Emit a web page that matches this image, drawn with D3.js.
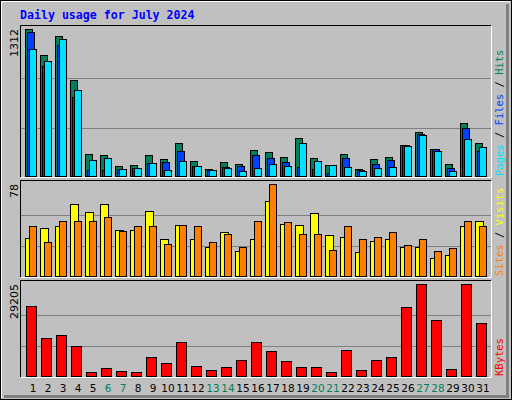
<!DOCTYPE html>
<html><head><meta charset="utf-8">
<script src="https://cdn.jsdelivr.net/npm/d3@7/dist/d3.min.js"></script>
<style>body{margin:0;background:#fff}</style>
</head><body>
<div id="chart"></div>
<script>
var days = d3.range(1, 32).map(String);
var weekends = ["6","7","13","14","20","21","27","28"];
var hits   = [1312,1080,1250,858,199,190,92,101,190,154,297,137,65,128,110,234,217,172,341,163,101,199,65,154,172,279,395,243,110,475,297];
var files  = [1285,985,1169,706,56,56,65,74,119,128,226,92,56,83,92,190,163,128,83,65,30,163,56,110,145,279,377,237,74,430,226];
var pages  = [1134,1027,1223,769,145,163,65,74,119,56,137,92,56,74,47,74,104,92,297,137,101,83,47,74,83,270,368,226,47,332,261];
var sites  = [32,41,42,61,54,61,39,39,55,31,43,31,25,37,21,31,64,44,43,53,35,33,20,30,31,25,25,15,18,42,47];
var visits = [42,29,47,47,47,50,38,42,42,27,43,42,29,36,25,47,78,46,36,36,22,42,31,33,37,26,31,21,24,47,42];
var kbytes = [22170,11940,12900,9380,1390,2670,1710,1390,6180,4260,10660,3300,2030,2980,5220,10660,7780,4900,2980,2980,1390,8100,2030,5220,6180,21850,29205,17700,2350,29205,16740];

var W = 512, H = 400;
var svg = d3.select("#chart").append("svg").attr("width", W).attr("height", H);

// frame
svg.append("rect").attr("x", 0.5).attr("y", 0.5).attr("width", W - 1).attr("height", H - 1)
  .attr("fill", "#c0c0c0").attr("stroke", "#000");
svg.append("path").attr("d", "M1.5,398V1.5H510").attr("stroke", "#fff").attr("fill", "none");
svg.append("path").attr("d", "M507.5,4V396.5H4").attr("stroke", "#808080").attr("stroke-width", 3).attr("fill", "none");

svg.append("text").attr("x", 20).attr("y", 19).text("Daily usage for July 2024")
  .attr("font-family", "DejaVu Sans Mono").attr("font-weight", "bold").attr("font-size", 11.6)
  .attr("fill", "#0000ff");

var x = d3.scaleBand().domain(days).range([20, 485]);
var left = 20, right = 491;

function panel(top, bottom, max, series, label, legend) {
  var y = d3.scaleLinear().domain([0, max]).range([bottom - 1, top + 4]);
  var g = svg.append("g");
  [1, 2].forEach(function (k) {
    var gy = Math.round(bottom - (bottom - top - 4) * k / 3) + 0.5;
    g.append("line").attr("x1", left).attr("x2", right).attr("y1", gy).attr("y2", gy)
      .attr("stroke", "#808080");
  });
  g.append("path").attr("d", "M" + (left + .5) + "," + bottom + "V" + (top + .5) + "H" + right)
    .attr("stroke", "#000").attr("fill", "none");
  g.append("path").attr("d", "M" + (left + 1) + "," + (bottom + .5) + "H" + (right + .5) + "V" + (top + 1))
    .attr("stroke", "#fff").attr("fill", "none");
  series.forEach(function (s) {
    g.selectAll(null).data(s.values).enter().append("rect")
      .attr("x", function (d, i) { return x(days[i]) + s.dx + .5; })
      .attr("y", function (d) { return Math.round(y(d)) + .5; })
      .attr("width", s.w)
      .attr("height", function (d) { return Math.max(0, Math.round(bottom - 1 - y(d))); })
      .attr("fill", s.color).attr("stroke", "#000");
  });
  svg.append("text").attr("transform", "translate(18," + (top + 4) + ") rotate(-90)")
    .attr("text-anchor", "end").attr("font-family", "DejaVu Sans").attr("font-size", 11)
    .text(max);
  var t = svg.append("text").attr("transform", "translate(503," + (bottom - 1) + ") rotate(-90)")
    .attr("font-family", "DejaVu Sans Mono").attr("font-size", 10.5);
  legend.forEach(function (p, i) {
    if (i) t.append("tspan").attr("fill", "#000").text(" / ");
    t.append("tspan").attr("fill", p[1]).text(p[0]);
  });
}

panel(25, 177, 1312, [
  { values: hits, color: "#00805c", dx: 5, w: 7 },
  { values: files, color: "#0040ff", dx: 7, w: 7 },
  { values: pages, color: "#00e0ff", dx: 9, w: 7 }
], "", [["Pages", "#00e0ff"], ["Files", "#0040ff"], ["Hits", "#00805c"]]);

panel(180, 277, 78, [
  { values: sites, color: "#ffff00", dx: 5, w: 8 },
  { values: visits, color: "#ff8000", dx: 9, w: 7 }
], "", [["Sites", "#ff8000"], ["Visits", "#ffff00"]]);

panel(280, 377, 29205, [
  { values: kbytes, color: "#ff0000", dx: 6, w: 10 }
], "", [["KBytes", "#ff0000"]]);

svg.append("g").selectAll("text").data(days).enter().append("text")
  .attr("x", function (d) { return x(d) + 13; })
  .attr("y", 392).attr("text-anchor", "middle")
  .attr("font-family", "DejaVu Sans").attr("font-size", 10.5)
  .attr("fill", function (d) { return weekends.indexOf(d) >= 0 ? "#00805c" : "#000"; })
  .text(function (d) { return d; });
</script>
</body></html>
